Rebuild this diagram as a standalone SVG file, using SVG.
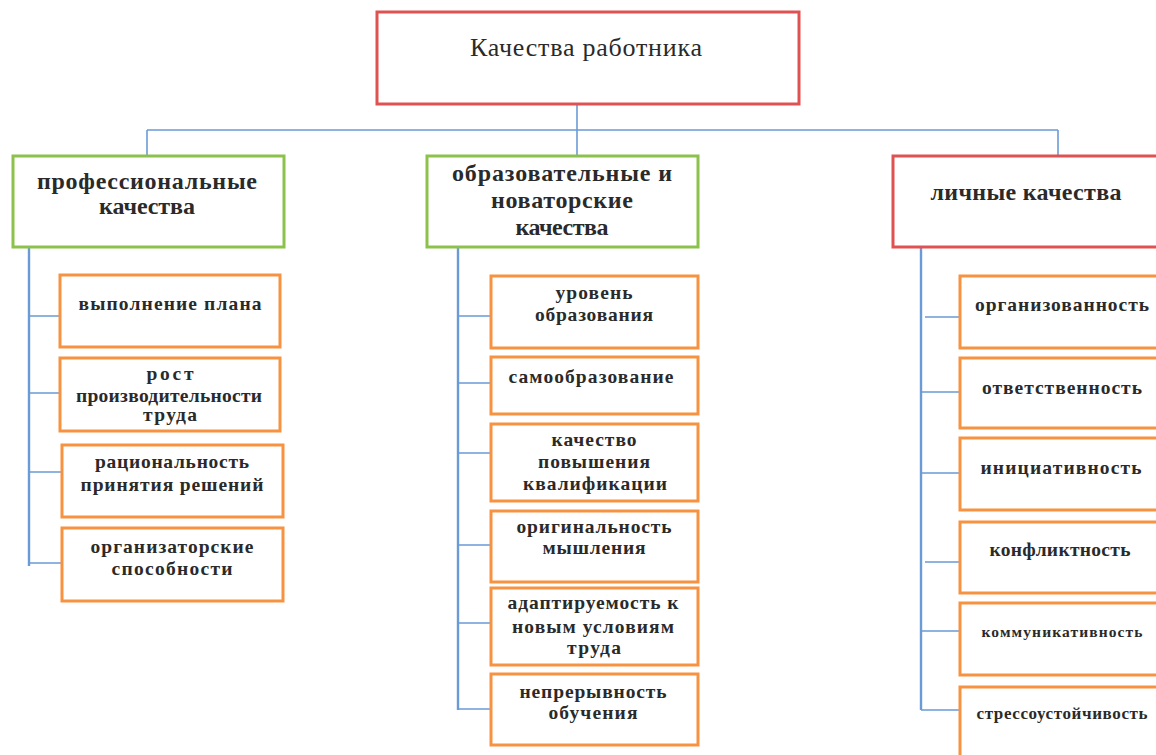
<svg xmlns="http://www.w3.org/2000/svg" width="1156" height="755" viewBox="0 0 1156 755">
<style>
.bg{fill:#ffffff}
.red{fill:#ffffff;stroke:#e05252;stroke-width:3}
.green{fill:#ffffff;stroke:#8cc24c;stroke-width:3}
.orange{fill:#ffffff;stroke:#f79240;stroke-width:3}
.ln{fill:none;stroke:#6b9bd6;stroke-width:1.6}
.vln{fill:none;stroke:#6b9bd6;stroke-width:2.4}
text{font-family:"Liberation Serif","DejaVu Serif",serif;fill:#2a2a2a;text-anchor:middle}
.t0{font-size:26px}
.t1{font-size:24px;font-weight:bold}
.t2{font-size:19.5px;font-weight:bold}
.t3{font-size:15.5px;font-weight:bold}
.t4{font-size:17px;font-weight:bold}
</style>
<rect class="bg" x="0" y="0" width="1156" height="755"/>
<g id="connectors">
<path class="ln" d="M577,104 V130 M147,130 H1058 M147,130 V155 M577,130 V155 M1058,130 V155"/>
<path class="vln" d="M29,247 V566 M458,247 V710 M921,247 V710"/>
<path class="ln" d="M29,316 H60 M29,393 H60 M29,472 H62 M29,563 H62"/>
<path class="ln" d="M458,316 H491 M458,383 H491 M458,453 H491 M458,545 H491 M458,623 H491 M458,709 H491"/>
<path class="ln" d="M925,317 H960 M921,392 H960 M921,473 H960 M925,562 H960 M921,631 H960 M921,710 H960"/>
</g>
<g id="root">
<rect class="red" x="377" y="12" width="422" height="92"/>
<text class="t0" x="586" y="56" textLength="232" lengthAdjust="spacing">Качества работника</text>
</g>
<g id="cat-prof">
<rect class="green" x="13" y="156" width="271" height="91"/>
<text class="t1" x="147" y="189" textLength="220" lengthAdjust="spacing">профессиональные</text>
<text class="t1" x="147" y="214" textLength="96" lengthAdjust="spacing">качества</text>
</g>
<g id="cat-edu">
<rect class="green" x="427" y="156" width="271" height="91"/>
<text class="t1" x="562" y="181" textLength="220" lengthAdjust="spacing">образовательные и</text>
<text class="t1" x="562" y="208" textLength="142" lengthAdjust="spacing">новаторские</text>
<text class="t1" x="562" y="235" textLength="93" lengthAdjust="spacing">качества</text>
</g>
<g id="cat-pers">
<rect class="red" x="893" y="156" width="300" height="91"/>
<text class="t1" x="1026" y="200" textLength="191" lengthAdjust="spacing">личные качества</text>
</g>
<g id="p1"><rect class="orange" x="60" y="275" width="220" height="72"/>
<text class="t2" x="170" y="310" textLength="183" lengthAdjust="spacing">выполнение плана</text></g>
<g id="p2"><rect class="orange" x="60" y="358" width="220" height="73"/>
<text class="t2" x="170" y="380" textLength="47" lengthAdjust="spacing">рост</text>
<text class="t2" x="169" y="402" textLength="186" lengthAdjust="spacing">производительности</text>
<text class="t2" x="170" y="421" textLength="54" lengthAdjust="spacing">труда</text></g>
<g id="p3"><rect class="orange" x="62" y="445" width="221" height="72"/>
<text class="t2" x="172" y="468" textLength="154" lengthAdjust="spacing">рациональность</text>
<text class="t2" x="172" y="491" textLength="183" lengthAdjust="spacing">принятия решений</text></g>
<g id="p4"><rect class="orange" x="62" y="528" width="221" height="73"/>
<text class="t2" x="172" y="553" textLength="163" lengthAdjust="spacing">организаторские</text>
<text class="t2" x="172" y="575" textLength="121" lengthAdjust="spacing">способности</text></g>
<g id="e1"><rect class="orange" x="491" y="276" width="207" height="72"/>
<text class="t2" x="594" y="299" textLength="77" lengthAdjust="spacing">уровень</text>
<text class="t2" x="594" y="321" textLength="118" lengthAdjust="spacing">образования</text></g>
<g id="e2"><rect class="orange" x="491" y="357" width="207" height="57"/>
<text class="t2" x="591" y="383" textLength="165" lengthAdjust="spacing">самообразование</text></g>
<g id="e3"><rect class="orange" x="491" y="424" width="207" height="77"/>
<text class="t2" x="594" y="446" textLength="85" lengthAdjust="spacing">качество</text>
<text class="t2" x="594" y="468" textLength="112" lengthAdjust="spacing">повышения</text>
<text class="t2" x="595" y="490" textLength="144" lengthAdjust="spacing">квалификации</text></g>
<g id="e4"><rect class="orange" x="491" y="511" width="207" height="71"/>
<text class="t2" x="594" y="533" textLength="155" lengthAdjust="spacing">оригинальность</text>
<text class="t2" x="594" y="554" textLength="103" lengthAdjust="spacing">мышления</text></g>
<g id="e5"><rect class="orange" x="491" y="588" width="207" height="77"/>
<text class="t2" x="593" y="609" textLength="171" lengthAdjust="spacing">адаптируемость к</text>
<text class="t2" x="593" y="633" textLength="162" lengthAdjust="spacing">новым условиям</text>
<text class="t2" x="594" y="654" textLength="54" lengthAdjust="spacing">труда</text></g>
<g id="e6"><rect class="orange" x="491" y="674" width="207" height="71"/>
<text class="t2" x="593" y="698" textLength="147" lengthAdjust="spacing">непрерывность</text>
<text class="t2" x="593" y="719" textLength="89" lengthAdjust="spacing">обучения</text></g>
<g id="l1"><rect class="orange" x="960" y="276" width="220" height="72"/>
<text class="t2" x="1062" y="311" textLength="174" lengthAdjust="spacing">организованность</text></g>
<g id="l2"><rect class="orange" x="960" y="358" width="220" height="70"/>
<text class="t2" x="1062" y="394" textLength="160" lengthAdjust="spacing">ответственность</text></g>
<g id="l3"><rect class="orange" x="960" y="438" width="220" height="72"/>
<text class="t2" x="1061" y="474" textLength="161" lengthAdjust="spacing">инициативность</text></g>
<g id="l4"><rect class="orange" x="960" y="522" width="220" height="71"/>
<text class="t2" x="1060" y="556" textLength="141" lengthAdjust="spacing">конфликтность</text></g>
<g id="l5"><rect class="orange" x="960" y="603" width="220" height="72"/>
<text class="t3" x="1062" y="637" textLength="161" lengthAdjust="spacing">коммуникативность</text></g>
<g id="l6"><rect class="orange" x="960" y="687" width="220" height="90"/>
<text class="t4" x="1062" y="719" textLength="171" lengthAdjust="spacing">стрессоустойчивость</text></g>
</svg>
